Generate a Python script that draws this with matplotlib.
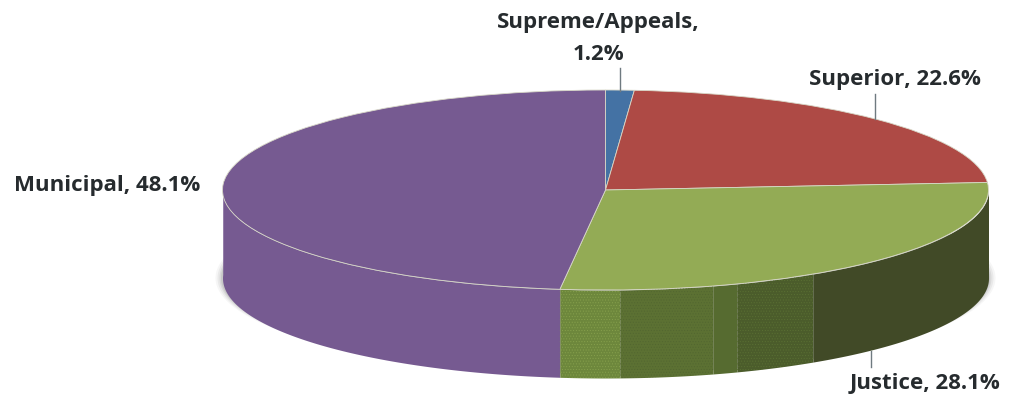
import numpy as np
import matplotlib
matplotlib.use("Agg")
import matplotlib.pyplot as plt

labels = ['Supreme/Appeals', 'Superior', 'Justice', 'Municipal']
shares = [1.2, 22.6, 28.1, 48.1]
colors = ['#4472a4', '#ae4a45', '#93ab55', '#765a91']

# picture geometry, pixels
W, H = 1010, 400
CX, CY, RX, RY, DEPTH = 605.5, 190, 383, 100, 88

def ux(px):
    return (px - CX) / RX

def uy(py):
    return (CY - py) / RY

def rim(a1, a2):
    # angles in degrees clockwise from 12 o'clock, top rim of the pie
    t = np.radians(np.linspace(a1, a2, 300))
    return np.sin(t), np.cos(t)

def side(ax, a1, a2, color, **kw):
    x, y = rim(a1, a2)
    ax.fill_between(x, y, y - DEPTH / RY, color=color, linewidth=0, **kw)

plt.rcParams['hatch.linewidth'] = 0.4
fig = plt.figure(figsize=(W / 100, H / 100), dpi=100)
ax = fig.add_axes([0, 0, 1, 1])

# soft shadow peeking out either side of the body
for grow, alp in [(7, 0.07), (5, 0.1), (3, 0.15), (1.5, 0.2)]:
    t = np.linspace(0, 2 * np.pi, 300)
    ax.fill(np.sin(t) * (RX + grow) / RX, np.cos(t) * 0.96 + uy(CY + 88), color='#808080', alpha=alp, lw=0)

# side wall
ends = np.cumsum(shares) / 100 * 360
justice_end = ends[2]
side(ax, justice_end, 272, colors[3])

# justice wall gets darker to the right, bands as x limits in pixels
band_px = [560, 620, 713, 737, 813, 989]
band_col = ['#6d873c', '#5c7133', '#566b30', '#4b5c2b', '#414a27']
band_dot = ['#86a04c', '#526630', '#566b30', '#5a7033', '#414a27']
for i in range(len(band_col)):
    a = np.degrees(np.arcsin(np.clip(ux(band_px[i + 1]), -1, 1)))
    b = np.degrees(np.arcsin(np.clip(ux(band_px[i]), -1, 1)))
    a1 = max(90, 180 - a)
    a2 = 180 - b
    if i == 0:
        a2 = justice_end
    side(ax, a1, a2, band_col[i])
    x, y = rim(a1, a2)
    if band_dot[i] != band_col[i]:
        ax.fill_between(x, y, y - DEPTH / RY, facecolor='none', edgecolor=band_dot[i],
                        hatch='......', linewidth=0)

# top face
wedges, _ = ax.pie(shares, colors=colors, startangle=90, counterclock=False,
                   radius=1, center=(0, 0), frame=True,
                   wedgeprops=dict(edgecolor='#d8d8c8', linewidth=0.6))

ax.set_aspect('auto')
ax.set_xlim(ux(0), ux(W))
ax.set_ylim(uy(H), uy(0))
ax.axis('off')

# leader lines
for px1, py1, py2 in [(620, 68, 91), (875, 94, 119), (871, 351, 367)]:
    ax.plot([ux(px1), ux(px1)], [uy(py1), uy(py2)], color='#6f7a80', lw=1)

font = dict(family='Open Sans', fontweight='bold', fontsize=16, color='#262b2e', va='center')
ax.text(ux(598), uy(22.5), labels[0] + ',', ha='center', **font)
ax.text(ux(598), uy(54.5), '%.1f%%' % shares[0], ha='center', **font)
ax.text(ux(895), uy(79.5), '%s, %.1f%%' % (labels[1], shares[1]), ha='center', **font)
ax.text(ux(925), uy(384), '%s, %.1f%%' % (labels[2], shares[2]), ha='center', **font)
ax.text(ux(107), uy(186), '%s, %.1f%%' % (labels[3], shares[3]), ha='center', **font)

fig.savefig('out.png', dpi=100)
